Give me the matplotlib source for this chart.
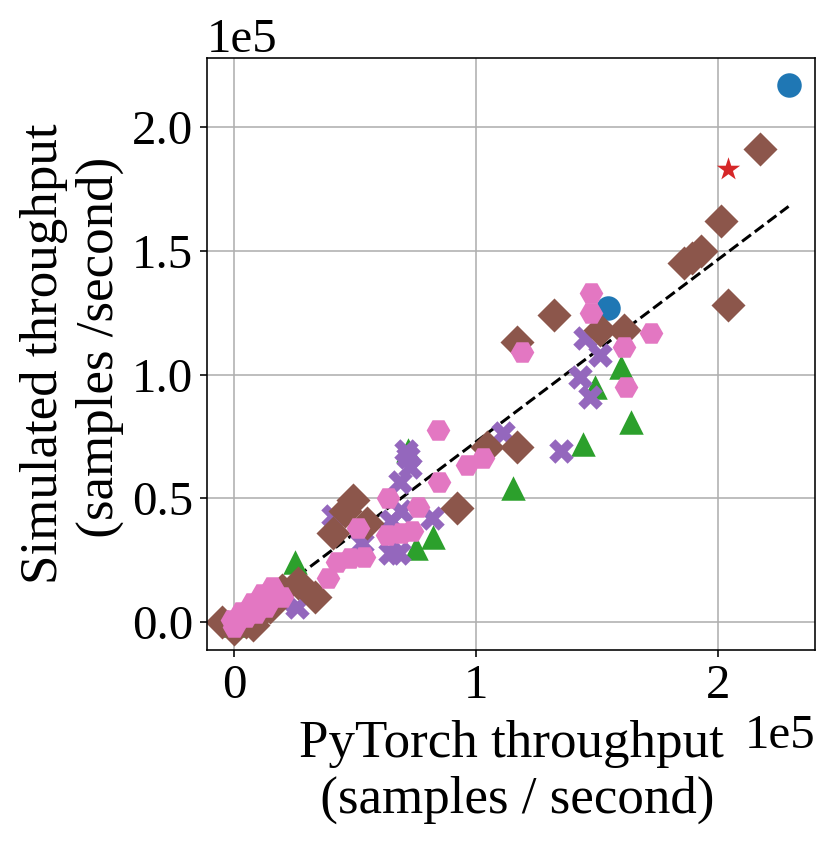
import numpy as np
import matplotlib.pyplot as plt

plt.rcParams['font.family'] = 'serif'
plt.rcParams['font.serif'] = ['Liberation Serif', 'DejaVu Serif']
plt.rcParams['font.size'] = 24.5
plt.rcParams['axes.labelsize'] = 26.5

# values in units of 1e5 samples / second
blue_x = [2.29, 1.545]
blue_y = [2.17, 1.27]

red_x = [2.04]
red_y = [1.83]

green_x = [1.60, 1.49, 1.64, 1.44, 1.15, 0.82, 0.75, 0.72, 0.25, 0.00, 0.02]
green_y = [1.03, 0.95, 0.81, 0.72, 0.54, 0.345, 0.30, 0.695, 0.243, -0.01, 0.00]

purple_x = [1.45, 1.51, 1.43, 1.47, 1.112, 1.35, 0.72, 0.727, 0.686, 0.69, 0.818,
            0.41, 0.65, 0.645, 0.68, 0.53, 0.26, 0.71, 0.05, 0.10, 0.15, 0.00, 0.20]
purple_y = [1.15, 1.08, 0.99, 0.91, 0.763, 0.69, 0.667, 0.627, 0.566, 0.45, 0.42,
            0.43, 0.41, 0.28, 0.28, 0.32, 0.06, 0.69, 0.03, 0.06, 0.10, 0.00, 0.09]

brown_x = [2.17, 2.01, 1.93, 1.89, 1.86, 2.04, 1.32, 1.17, 1.51, 1.61, 1.045, 1.17,
           0.92, 0.49, 0.46, 0.55, 0.41, 0.265, 0.335, 0.20,
           -0.05, 0.00, 0.05, 0.10, 0.15, 0.08]
brown_y = [1.91, 1.62, 1.50, 1.47, 1.45, 1.28, 1.24, 1.13, 1.18, 1.18, 0.707, 0.707,
           0.46, 0.493, 0.45, 0.40, 0.36, 0.158, 0.10, 0.13,
           0.00, -0.03, 0.00, 0.03, 0.06, -0.01]

pink_x = [1.475, 1.475, 1.19, 1.72, 1.61, 1.62, 0.843, 1.03, 0.962, 0.848, 0.636,
          0.76, 0.51, 0.63, 0.69, 0.735, 0.535, 0.48, 0.425, 0.39,
          -0.01, 0.03, 0.075, 0.115, 0.155, 0.20, 0.09, 0.00, 0.13, 0.05]
pink_y = [1.33, 1.25, 1.09, 1.17, 1.11, 0.95, 0.776, 0.663, 0.634, 0.566, 0.50,
          0.466, 0.38, 0.35, 0.36, 0.37, 0.263, 0.26, 0.243, 0.18,
          0.01, 0.04, 0.075, 0.115, 0.14, 0.10, 0.035, -0.02, 0.06, 0.02]

fit_x = [0.0, 2.29]
fit_y = [-0.008, 1.68]

scale = 1e5

fig = plt.figure(figsize=(831 / 144, 841 / 144), dpi=144)
ax = fig.add_axes([0.249, 0.2271, 0.732, 0.7040])

# fit line sits under the markers
ax.plot(np.array(fit_x) * scale, np.array(fit_y) * scale, color='black', linestyle='--',
        linewidth=1.5, zorder=0.9)

ax.scatter(np.array(blue_x) * scale, np.array(blue_y) * scale, s=150, marker='o', color='C0', linewidths=0)
ax.scatter(np.array(red_x) * scale, np.array(red_y) * scale, s=150, marker='*', color='C3', linewidths=0)
ax.scatter(np.array(green_x) * scale, np.array(green_y) * scale, s=150, marker='^', color='C2', linewidths=0)
ax.scatter(np.array(purple_x) * scale, np.array(purple_y) * scale, s=150, marker='X', color='C4', linewidths=0)
ax.scatter(np.array(brown_x) * scale, np.array(brown_y) * scale, s=145, marker='D', color='C5', linewidths=0)
ax.scatter(np.array(pink_x) * scale, np.array(pink_y) * scale, s=140, marker='H', color='C6', linewidths=0)

ax.set_xlim(-0.112 * scale, 2.40 * scale)
ax.set_ylim(-0.113 * scale, 2.28 * scale)
ax.set_xticks([0, 1e5, 2e5])
ax.set_yticks([0, 0.5e5, 1e5, 1.5e5, 2e5])
ax.ticklabel_format(style='sci', axis='both', scilimits=(0, 0))
ax.grid(True)
ax.set_axisbelow(True)

ax.set_xlabel('PyTorch throughput\n (samples / second)', labelpad=6)
ax.set_ylabel('Simulated throughput\n (samples /second)')

fig.savefig('out.png', dpi=144)
